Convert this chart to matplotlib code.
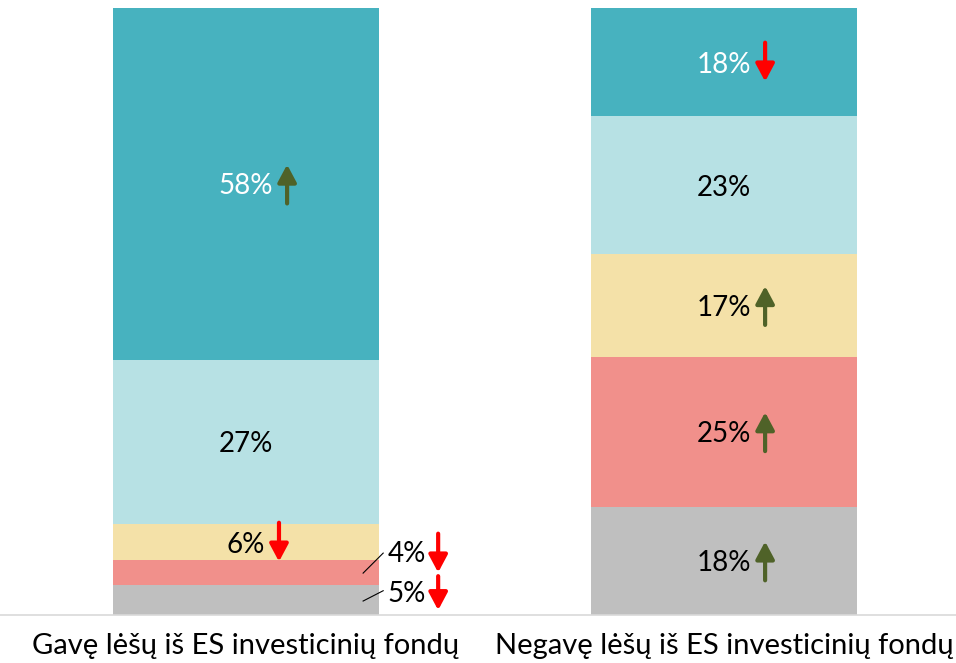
import matplotlib
matplotlib.use("Agg")
import matplotlib.pyplot as plt

plt.rcParams['font.family'] = ['Lato', 'DejaVu Sans']

groups = ["Gavę lėšų iš ES investicinių fondų", "Negavę lėšų iš ES investicinių fondų"]
# segments bottom -> top
colors = ["#BFBFBF", "#F1908B", "#F4E1A8", "#B7E1E4", "#47B2BF"]
gavo = [5, 4, 6, 27, 58]
negavo = [18, 25, 17, 23, 18]
# trend arrows: 1 up, -1 down, 0 none
gavo_trend = [-1, -1, -1, 0, 1]
negavo_trend = [1, 1, 1, 0, -1]

UP = "#4F6228"
DOWN = "#FF0000"

fig = plt.figure(figsize=(9.56, 6.63), dpi=100)
ax = fig.add_axes([0, 48 / 663, 1, 1 - 56 / 663])
w = 266 / 478

def arrow(x, y, d, half=3.2):
    col = UP if d > 0 else DOWN
    ax.annotate('', xy=(x, y + d * half), xytext=(x, y - d * half),
                arrowprops=dict(arrowstyle='-|>,head_length=0.75,head_width=0.4',
                                lw=3, color=col, mutation_scale=14,
                                shrinkA=0, shrinkB=0))

for i, (vals, trend) in enumerate([(gavo, gavo_trend), (negavo, negavo_trend)]):
    tot = sum(vals)
    bottom = 0
    for j, v in enumerate(vals):
        h = v / tot * 100
        ax.bar(i, h, width=w, bottom=bottom, color=colors[j], linewidth=0)
        mid = bottom + h / 2
        lab = f"{v}%"
        if h > 5.5:
            tc = "white" if j == 4 else "black"
            ax.text(i, mid - 0.4, lab, ha='center', va='center', fontsize=20, color=tc)
            if trend[j] != 0:
                dx = 0.086 if len(lab) > 2 else 0.069
                arrow(i + dx, mid, trend[j])
        bottom += h

# small segments of the first bar, labelled outside
ax.text(0.337, 10.1, "4%", ha='center', va='center', fontsize=20)
ax.text(0.337, 3.4, "5%", ha='center', va='center', fontsize=20)
ax.plot([0.245, 0.287], [6.9, 10.2], color='black', lw=0.8)
ax.plot([0.245, 0.287], [2.3, 4.0], color='black', lw=0.8)
arrow(0.402, 10.2, gavo_trend[1])
arrow(0.402, 3.6, gavo_trend[0], half=2.8)

ax.set_xlim(-246 / 478, 1 + 232 / 478)
ax.set_ylim(0, 100)
ax.set_xticks([0, 1])
ax.set_xticklabels(groups, fontsize=21)
ax.tick_params(axis='x', length=0, pad=13)
ax.set_yticks([])
for s in ['top', 'left', 'right']:
    ax.spines[s].set_visible(False)
ax.spines['bottom'].set_color('#D9D9D9')
ax.spines['bottom'].set_linewidth(1.2)

fig.savefig("out.png", dpi=100)
